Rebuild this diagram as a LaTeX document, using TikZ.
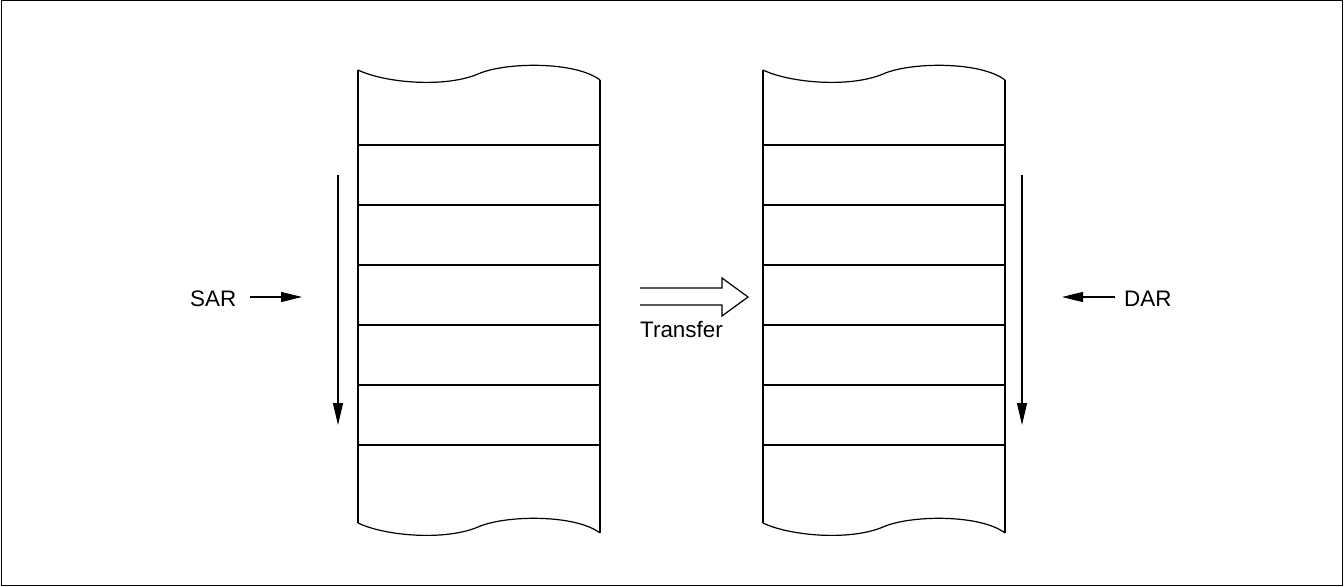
\documentclass[tikz,border=0pt]{standalone}
\usepackage{fontspec}
\setmainfont{Liberation Sans}
\usetikzlibrary{arrows.meta}
\begin{document}
\begin{tikzpicture}[x=1bp,y=-1bp,
  line/.style={line width=1.2bp, black},
  lbl/.style={font=\fontsize{22.4bp}{25bp}\selectfont, inner sep=0pt, anchor=base west},
  arr/.style={line width=1.2bp, -{Triangle[length=21bp,width=10bp]}},
  varr/.style={line width=1.2bp, -{Triangle[length=22bp,width=10bp]}}]
\useasboundingbox (0,0) rectangle (1344,587);
\draw[line width=1bp] (1,1) rectangle (1342.5,585.5);
% columns
\foreach \dx in {0,405}{
  \begin{scope}[xshift=\dx bp]
  \draw[line] (358,70) .. controls (385,83) and (445,88) .. (478,74)
        .. controls (505,62) and (575,61) .. (600,80);
  \draw[line] (358,523) .. controls (385,536) and (445,541) .. (478,527)
        .. controls (505,515) and (575,514) .. (600,533);
  \draw[line] (358,70) -- (358,523);
  \draw[line] (600,80) -- (600,533);
  \foreach \y in {145,205,265,325,385,445}
    \draw[line] (358,\y) -- (600,\y);
  \end{scope}
}
% SAR
\node[lbl] (sar) at (190,306) {SAR};
\coordinate (sarend) at (302,297);
\coordinate (sarstart) at (250,297);
\draw[arr] (sarstart) -- (sarend);
\coordinate (sv1) at (338,175);
\coordinate (sv2) at (338,425);
\draw[varr] (sv1) -- (sv2);
% DAR
\node[lbl] (dar) at (1124,306) {DAR};
\coordinate (darstart) at (1115,297);
\coordinate (darend) at (1062,297);
\draw[arr] (darstart) -- (darend);
\coordinate (dv1) at (1022,175);
\coordinate (dv2) at (1022,425);
\draw[varr] (dv1) -- (dv2);
% Transfer
\draw[line, line join=miter] (640,288) -- (722,288) -- (722,278) -- (748,297) -- (722,316) -- (722,305) -- (640,305);
\node[lbl] (tr) at (640,337) {Transfer};
\end{tikzpicture}
\end{document}
